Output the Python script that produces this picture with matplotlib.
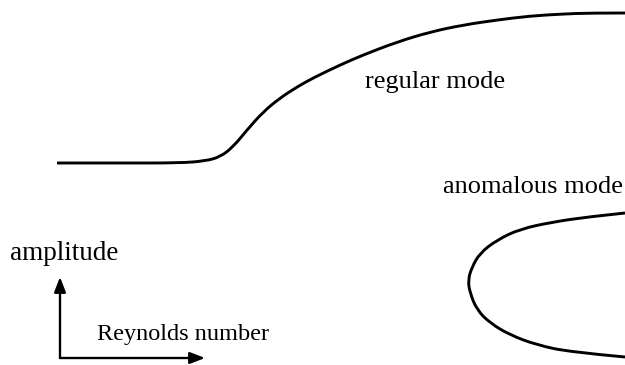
import matplotlib
matplotlib.use("Agg")
import matplotlib.pyplot as plt
from matplotlib.path import Path
from matplotlib.patches import PathPatch
import numpy as np

# Regular mode branch (Reynolds number, amplitude) in drawing units
regular_re = [57, 120, 180, 205, 220, 233, 247, 263, 280, 297, 313, 340, 363, 397, 430, 463, 497, 530, 563, 590, 625]
regular_amp = [202, 202, 202, 204, 208, 218, 235, 253, 267, 278, 287, 300, 310, 323, 333, 340, 345, 349, 351, 352, 352]

# Anomalous mode (fold) branch
anom_re = [625, 587, 553, 520, 497, 480, 472, 468, 470, 477, 490, 510, 537, 570, 625]
anom_amp = [152, 148, 143, 136, 125, 112, 98, 85, 72, 55, 42, 30, 20, 13, 8]

# Axis-indicator arrows: origin, amplitude tip, Reynolds tip
arrow_origin = (60, 7)
arrow_amp_tip = (60, 88)
arrow_re_tip = (205, 7)

labels = [
    ("regular mode", 365, 277, 19),
    ("anomalous mode", 443, 172, 19),
    ("amplitude", 10, 105, 19.5),
    ("Reynolds number", 97, 25, 17.5),
]


def smooth_path(xs, ys):
    """Quadratic B-spline style path: read points act as control points."""
    p = np.column_stack([xs, ys]).astype(float)
    verts = [p[0]]
    codes = [Path.MOVETO]
    n = len(p)
    for i in range(1, n - 1):
        end = p[i + 1] if i == n - 2 else (p[i] + p[i + 1]) / 2.0
        verts += [p[i], end]
        codes += [Path.CURVE3, Path.CURVE3]
    return Path(verts, codes)


fig = plt.figure(figsize=(6.25, 3.65), dpi=100)
ax = fig.add_axes([0, 0, 1, 1])
ax.set_xlim(0, 625)
ax.set_ylim(0, 365)
ax.axis("off")

for xs, ys in [(regular_re, regular_amp), (anom_re, anom_amp)]:
    ax.add_patch(PathPatch(smooth_path(xs, ys), facecolor="none",
                           edgecolor="black", lw=2.1, capstyle="butt"))

arrowprops = dict(arrowstyle="-|>,head_length=0.9,head_width=0.35", color="black",
                  lw=1.7, shrinkA=0, shrinkB=0)
ax.annotate("", xy=arrow_amp_tip, xytext=arrow_origin, arrowprops=arrowprops)
ax.annotate("", xy=arrow_re_tip, xytext=arrow_origin, arrowprops=arrowprops)

for text, x, y, size in labels:
    ax.text(x, y, text, ha="left", va="baseline",
            family="Liberation Serif", fontsize=size, color="black")

fig.savefig("out.png", dpi=100)
